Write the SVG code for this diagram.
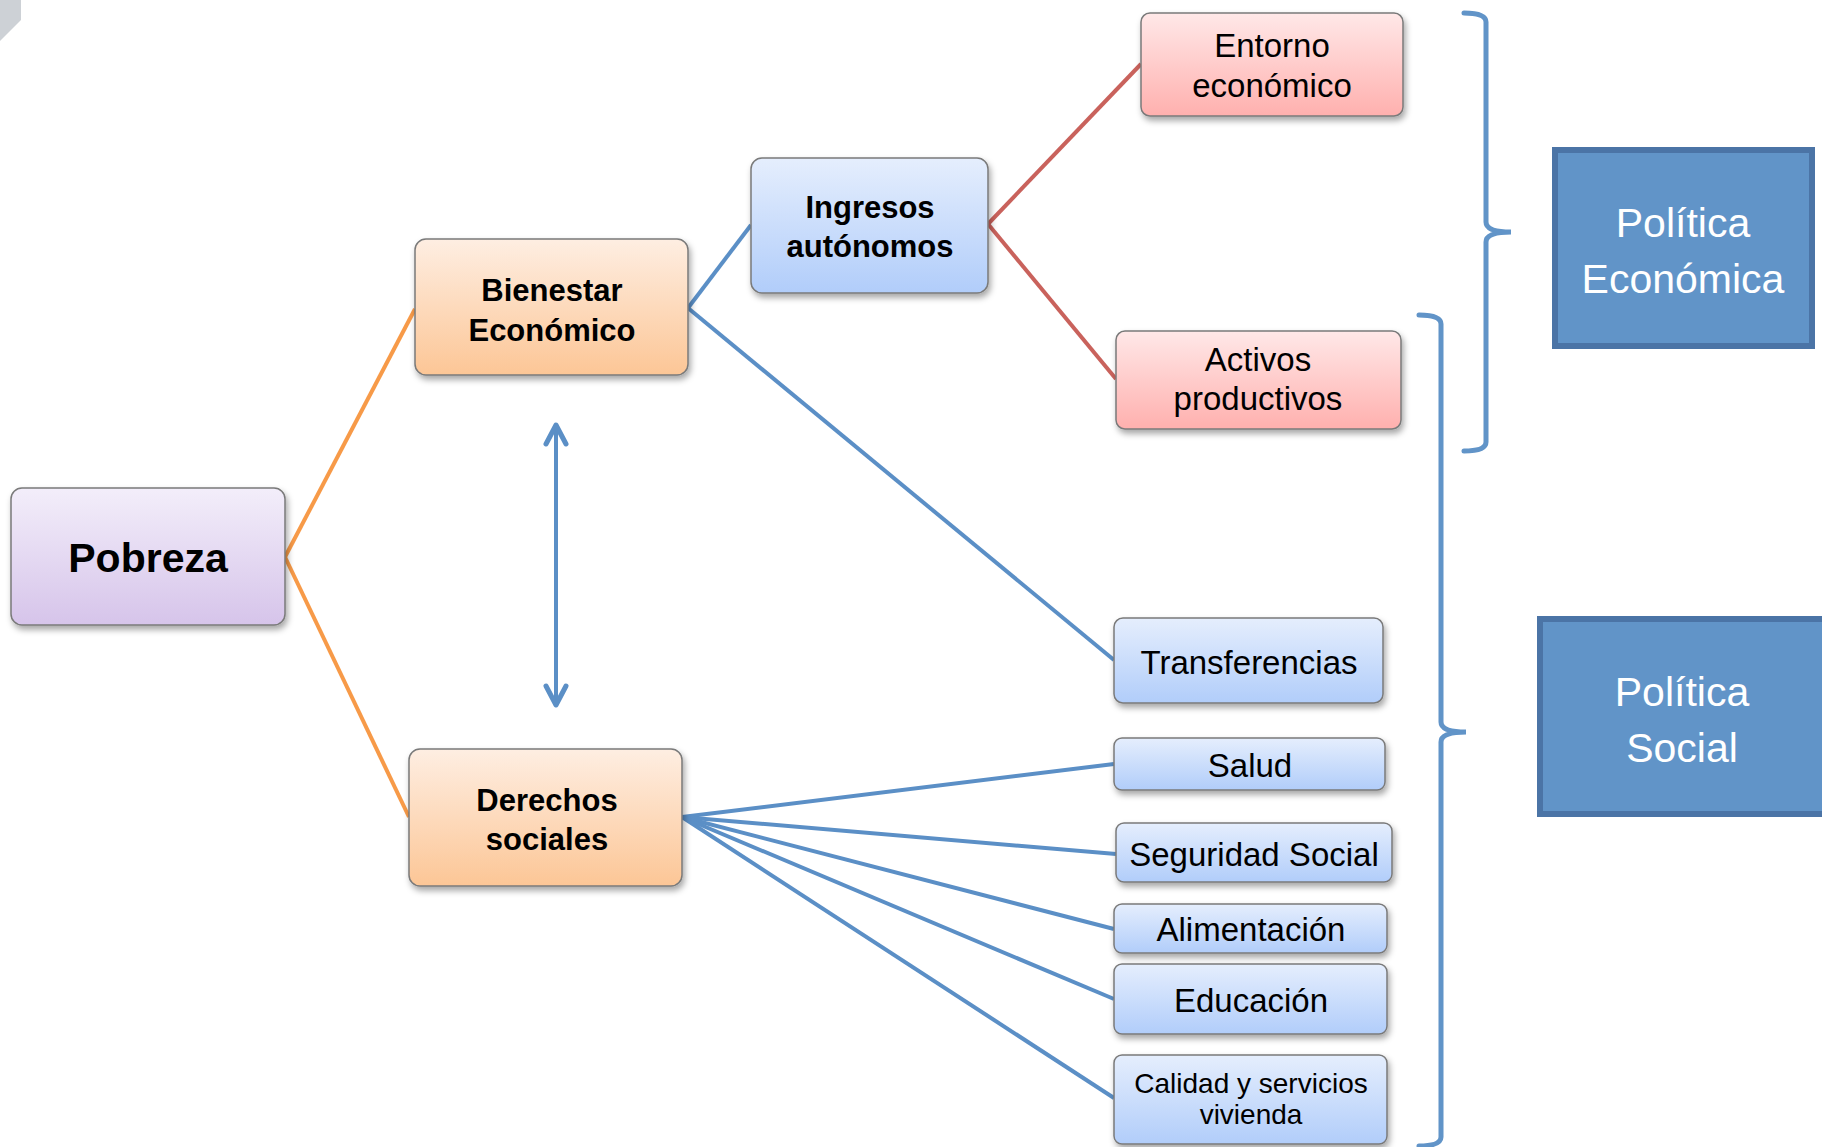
<svg xmlns="http://www.w3.org/2000/svg" width="1822" height="1147" viewBox="0 0 1822 1147">
<style>
.box{stroke:#7a7a7a;stroke-width:1.5;filter:url(#sh)}
.t{font-family:"Liberation Sans",Arial,sans-serif;fill:#000;text-anchor:middle}
.b{font-weight:bold}
.n{font-size:33px}
.pol{fill:#6194C8;stroke:#4B74A6;stroke-width:6}
.pt{font-family:"Liberation Sans",Arial,sans-serif;fill:#fff;font-size:41px;text-anchor:middle}
.cb{stroke:#5B8FC6;stroke-width:4;fill:none}
.co{stroke:#F79A48;stroke-width:4;fill:none}
.cr{stroke:#C9625C;stroke-width:4;fill:none}
.br{stroke:#6194C8;stroke-width:5;fill:none;stroke-linecap:round}
</style>
<defs>
<filter id="sh" x="-10%" y="-10%" width="130%" height="140%">
<feDropShadow dx="2" dy="4" stdDeviation="3" flood-color="#000" flood-opacity="0.35"/>
</filter>
<linearGradient id="gp" x1="0" y1="0" x2="0" y2="1"><stop offset="0" stop-color="#F3EEFA"/><stop offset="1" stop-color="#D6C4EA"/></linearGradient>
<linearGradient id="go" x1="0" y1="0" x2="0" y2="1"><stop offset="0" stop-color="#FEEEE2"/><stop offset="1" stop-color="#FCC696"/></linearGradient>
<linearGradient id="gb" x1="0" y1="0" x2="0" y2="1"><stop offset="0" stop-color="#E5EEFD"/><stop offset="1" stop-color="#B1CDFA"/></linearGradient>
<linearGradient id="gr" x1="0" y1="0" x2="0" y2="1"><stop offset="0" stop-color="#FFE8E8"/><stop offset="1" stop-color="#FFB0AE"/></linearGradient>
<marker id="ah" viewBox="-26 -16 32 32" refX="0" refY="0" markerWidth="32" markerHeight="32" markerUnits="userSpaceOnUse" orient="auto-start-reverse">
<path d="M-19,-10 L0,0 L-19,10" fill="none" stroke="#5B8FC6" stroke-width="5" stroke-linecap="round" stroke-linejoin="round"/>
</marker>
</defs>
<rect width="1822" height="1147" fill="#fff"/>
<polygon points="0,0 21,0 21,20 0,41" fill="#CDD1D6"/>

<g id="connectors">
<line class="co" x1="285" y1="557" x2="415" y2="309"/>
<line class="co" x1="285" y1="557" x2="409" y2="817"/>
<line class="cb" x1="688" y1="308" x2="751" y2="225"/>
<line class="cb" x1="688" y1="308" x2="1114" y2="660"/>
<line class="cr" x1="988" y1="224" x2="1141" y2="64"/>
<line class="cr" x1="988" y1="224" x2="1116" y2="379"/>
<line class="cb" x1="682" y1="817" x2="1114" y2="764"/>
<line class="cb" x1="682" y1="817" x2="1116" y2="854"/>
<line class="cb" x1="682" y1="817" x2="1114" y2="929"/>
<line class="cb" x1="682" y1="817" x2="1114" y2="999"/>
<line class="cb" x1="682" y1="817" x2="1114" y2="1098"/>
<line class="cb" x1="556" y1="425" x2="556" y2="705" stroke-width="5" marker-start="url(#ah)" marker-end="url(#ah)"/>
<path class="br" d="M1464,13 Q1486,13 1486,22 L1486,222 Q1486,232 1511,232 Q1486,232 1486,242 L1486,442 Q1486,451 1464,451"/>
<path class="br" d="M1419,315 Q1441,315 1441,324 L1441,722 Q1441,732 1466,732 Q1441,732 1441,742 L1441,1137 Q1441,1146 1419,1146"/>
</g>

<g id="pobreza"><rect class="box" x="11" y="488" width="274" height="137" rx="11" fill="url(#gp)"/>
<text class="t b" x="148" y="572" font-size="41">Pobreza</text></g>

<g id="bienestar"><rect class="box" x="415" y="239" width="273" height="136" rx="11" fill="url(#go)"/>
<text class="t b" x="552" y="301" font-size="31">Bienestar</text>
<text class="t b" x="552" y="341" font-size="31">Económico</text></g>

<g id="derechos"><rect class="box" x="409" y="749" width="273" height="137" rx="11" fill="url(#go)"/>
<text class="t b" x="547" y="811" font-size="31">Derechos</text>
<text class="t b" x="547" y="850" font-size="31">sociales</text></g>

<g id="ingresos"><rect class="box" x="751" y="158" width="237" height="135" rx="11" fill="url(#gb)"/>
<text class="t b" x="870" y="218" font-size="31">Ingresos</text>
<text class="t b" x="870" y="257" font-size="31">autónomos</text></g>

<g id="entorno"><rect class="box" x="1141" y="13" width="262" height="103" rx="9" fill="url(#gr)"/>
<text class="t n" x="1272" y="57">Entorno</text>
<text class="t n" x="1272" y="97">económico</text></g>

<g id="activos"><rect class="box" x="1116" y="331" width="285" height="98" rx="9" fill="url(#gr)"/>
<text class="t n" x="1258" y="371">Activos</text>
<text class="t n" x="1258" y="410">productivos</text></g>

<g id="transferencias"><rect class="box" x="1114" y="618" width="269" height="85" rx="9" fill="url(#gb)"/>
<text class="t n" x="1249" y="674">Transferencias</text></g>

<g id="salud"><rect class="box" x="1114" y="738" width="271" height="52" rx="8" fill="url(#gb)"/>
<text class="t n" x="1250" y="777">Salud</text></g>

<g id="seguridad"><rect class="box" x="1116" y="823" width="276" height="59" rx="8" fill="url(#gb)"/>
<text class="t n" x="1254" y="866">Seguridad Social</text></g>

<g id="alimentacion"><rect class="box" x="1114" y="904" width="273" height="49" rx="8" fill="url(#gb)"/>
<text class="t n" x="1251" y="941">Alimentación</text></g>

<g id="educacion"><rect class="box" x="1114" y="964" width="273" height="70" rx="8" fill="url(#gb)"/>
<text class="t n" x="1251" y="1012">Educación</text></g>

<g id="calidad"><rect class="box" x="1114" y="1055" width="273" height="89" rx="8" fill="url(#gb)"/>
<text class="t" x="1251" y="1093" font-size="28">Calidad y servicios</text>
<text class="t" x="1251" y="1124" font-size="28">vivienda</text></g>

<g id="politica-economica"><rect class="pol" x="1555" y="150" width="257" height="196"/>
<text class="pt" x="1683" y="237">Política</text>
<text class="pt" x="1683" y="293">Económica</text></g>

<g id="politica-social"><rect class="pol" x="1540" y="619" width="300" height="195"/>
<text class="pt" x="1682" y="706">Política</text>
<text class="pt" x="1682" y="762">Social</text></g>
</svg>
